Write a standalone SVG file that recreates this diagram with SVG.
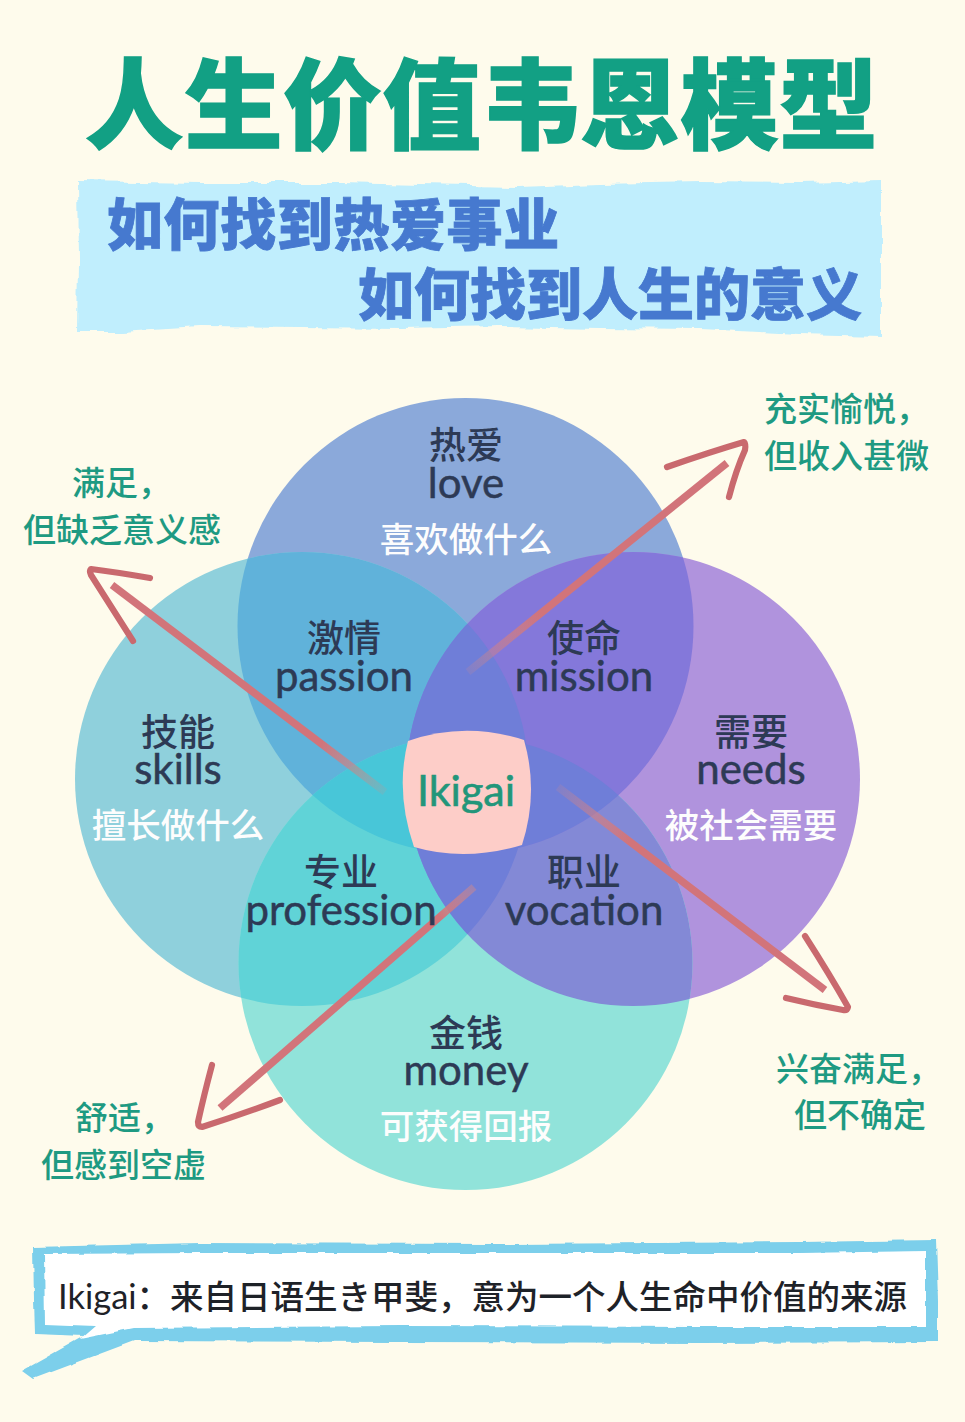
<svg xmlns="http://www.w3.org/2000/svg" width="965" height="1422" viewBox="0 0 965 1422">
<style>
text{font-family:"Noto Sans CJK SC","Noto Sans",sans-serif;text-anchor:middle}
.title{font-size:98px;font-weight:900;fill:#12A084;stroke:#12A084;stroke-width:1.5;letter-spacing:1.2px}
.sub{font-size:56px;font-weight:900;fill:#4679CF;stroke:#4679CF;stroke-width:.8;text-anchor:start}
.zh{font-size:37px;font-weight:500;fill:#2D3A55}
.en{font-family:Lato,"Noto Sans",sans-serif;font-size:42px;font-weight:400;fill:#2D3A55;stroke:#2D3A55;stroke-width:.5}
.wh{font-size:34.5px;font-weight:500;fill:#FDFDFD}
.side{font-size:33px;font-weight:500;fill:#1E9A82;text-anchor:start}
.ik{font-family:Lato,"Noto Sans",sans-serif;font-size:43px;fill:#22967A;stroke:#22967A;stroke-width:.6}
.note{font-size:33.5px;font-weight:500;fill:#1E2228;text-anchor:start}
.notelat{font-family:Lato,"Noto Sans",sans-serif;font-size:34.5px;font-weight:400}
.shaft{fill:none;stroke-width:7.5;stroke-linecap:butt}
.head{fill:none;stroke:#C9696E;stroke-width:6.2;stroke-linecap:round;stroke-linejoin:round}
</style>
<defs>
<clipPath id="cT"><circle cx="465.5" cy="626" r="228"/></clipPath>
<clipPath id="cL"><circle cx="302" cy="779" r="227"/></clipPath>
<clipPath id="cR"><circle cx="633" cy="779" r="227"/></clipPath>
<clipPath id="cB"><circle cx="465.5" cy="963" r="227"/></clipPath>
<filter id="torn" x="-5%" y="-20%" width="110%" height="140%"><feTurbulence type="fractalNoise" baseFrequency=".035" numOctaves="3" seed="7"/><feDisplacementMap in="SourceGraphic" scale="9" xChannelSelector="R" yChannelSelector="G"/></filter>
<filter id="rough" x="-5%" y="-20%" width="110%" height="140%"><feTurbulence type="fractalNoise" baseFrequency=".06" numOctaves="2" seed="3"/><feDisplacementMap in="SourceGraphic" scale="4" xChannelSelector="R" yChannelSelector="G"/></filter>
<linearGradient id="g1" gradientUnits="userSpaceOnUse" x1="468" y1="672" x2="540" y2="612"><stop offset="0" stop-color="#DE8A80" stop-opacity=".15"/><stop offset="1" stop-color="#D2747A"/></linearGradient>
<linearGradient id="g2" gradientUnits="userSpaceOnUse" x1="385" y1="792" x2="320" y2="745"><stop offset="0" stop-color="#DE8A80" stop-opacity=".15"/><stop offset="1" stop-color="#D2747A"/></linearGradient>
<linearGradient id="g3" gradientUnits="userSpaceOnUse" x1="558" y1="787" x2="630" y2="842"><stop offset="0" stop-color="#DE8A80" stop-opacity=".15"/><stop offset="1" stop-color="#D2747A"/></linearGradient>
<linearGradient id="g4" gradientUnits="userSpaceOnUse" x1="474" y1="887" x2="440" y2="917"><stop offset="0" stop-color="#DE8A80" stop-opacity=".4"/><stop offset="1" stop-color="#D2747A"/></linearGradient>
</defs>
<rect width="965" height="1422" fill="#FEFBEC"/>
<g id="title"><text class="title" x="482" y="141">人生价值韦恩模型</text></g>
<g id="subtitle">
<path fill="#C0EEFD" filter="url(#torn)" d="M78 181 L200 183 L340 183 L420 185 L520 187 L600 184 L700 182 L800 183 L881 181 L881 260 L881 336 L800 334 L700 329 L600 328 L500 326 L400 328 L300 327 L200 326 L120 331 L78 331 L79 260 Z"/>
<text class="sub" x="107" y="245" style="letter-spacing:.6px">如何找到热爱事业</text>
<text class="sub" x="358" y="315">如何找到人生的意义</text>
</g>
<g id="venn">
<circle id="love" cx="465.5" cy="626" r="228" fill="#8BA9DA"/>
<circle id="skills" cx="302" cy="779" r="227" fill="#8FD0DC"/>
<circle id="needs" cx="633" cy="779" r="227" fill="#B093DD"/>
<circle id="money" cx="465.5" cy="963" r="227" fill="#91E3DA"/>
<g clip-path="url(#cT)"><circle cx="302" cy="779" r="227" fill="#60B2DA"/></g>
<g clip-path="url(#cB)"><circle cx="302" cy="779" r="227" fill="#60D3D7"/></g>
<g clip-path="url(#cB)"><circle cx="633" cy="779" r="227" fill="#8389D6"/></g>
<g clip-path="url(#cT)"><circle cx="633" cy="779" r="227" fill="#8478DA"/></g>
<g clip-path="url(#cT)"><g clip-path="url(#cB)"><circle cx="302" cy="779" r="227" fill="#48C6D8"/></g></g>
<g clip-path="url(#cL)"><circle cx="633" cy="779" r="227" fill="#6F7ED8"/></g>
<g clip-path="url(#cT)"><g clip-path="url(#cB)"><circle cx="633" cy="779" r="227" fill="#6F7ED8"/></g></g>
</g>
<g id="ikigai">
<path fill="#FDCDC8" d="M408 741 Q465 721 524 740 Q539 792 522 845 Q465 862 414 847 Q395 792 408 741 Z"/>
<text class="ik" x="466" y="806">Ikigai</text>
</g>
<g id="connectors">
<path class="shaft" stroke="url(#g1)" d="M468 672 L727 463"/>
<path class="head" d="M667 467 Q710 452 744 442 Q746 444 745 450 Q736 470 729 497"/>
<path class="shaft" stroke="url(#g2)" d="M385 792 L112 585"/>
<path class="head" d="M150 578 Q115 572 91 569 Q89 571 91 575 Q110 605 133 641"/>
<path class="shaft" stroke="url(#g3)" d="M558 787 L825 990"/>
<path class="head" d="M805 936 Q830 975 848 1007 Q847 1011 843 1010 Q815 1005 786 998"/>
<path class="shaft" stroke="url(#g4)" d="M474 887 L220 1108"/>
<path class="head" d="M280 1100 Q240 1115 202 1127 Q198 1127 198 1122 Q204 1095 212 1065"/>
</g>
<g id="n-love"><text class="zh" x="466" y="459">热爱</text><text class="en" x="466" y="498">love</text><text class="wh" x="466" y="552">喜欢做什么</text></g>
<g id="n-passion"><text class="zh" x="344" y="652">激情</text><text class="en" x="344" y="691">passion</text></g>
<g id="n-mission"><text class="zh" x="584" y="652">使命</text><text class="en" x="584" y="691">mission</text></g>
<g id="n-skills"><text class="zh" x="178" y="746">技能</text><text class="en" x="178" y="784">skills</text><text class="wh" x="178" y="838">擅长做什么</text></g>
<g id="n-needs"><text class="zh" x="751" y="746">需要</text><text class="en" x="751" y="784">needs</text><text class="wh" x="751" y="838">被社会需要</text></g>
<g id="n-profession"><text class="zh" x="341" y="886">专业</text><text class="en" x="341" y="925">profession</text></g>
<g id="n-vocation"><text class="zh" x="584" y="886">职业</text><text class="en" x="584" y="925">vocation</text></g>
<g id="n-money"><text class="zh" x="466" y="1047">金钱</text><text class="en" x="466" y="1085">money</text><text class="wh" x="466" y="1139">可获得回报</text></g>
<g id="side-tr"><text class="side" x="764" y="421">充实愉悦，</text><text class="side" x="764" y="468">但收入甚微</text></g>
<g id="side-tl"><text class="side" x="72" y="495">满足，</text><text class="side" x="23" y="542">但缺乏意义感</text></g>
<g id="side-br"><text class="side" x="776" y="1081">兴奋满足，</text><text class="side" x="794" y="1127">但不确定</text></g>
<g id="side-bl"><text class="side" x="75" y="1130">舒适，</text><text class="side" x="41" y="1177">但感到空虚</text></g>
<g id="note">
<g filter="url(#rough)">
<path fill="#7CCFEB" d="M33 1247 L200 1243 L500 1244 L800 1242 L936 1240 L938 1300 L938 1342 L700 1343 L400 1342 L134 1341 L33 1379 L22 1371 L84 1336 L35 1334 L34 1300 Z"/>
<path fill="#FFFFFF" d="M44 1254 L200 1253 L500 1253 L800 1253 L926 1251 L926 1327 L700 1327 L400 1326 L134 1328 L80 1339 L95 1326 L45 1324 Z"/>
</g>
<text class="note" x="58" y="1309"><tspan class="notelat">Ikigai</tspan>：来自日语生き甲斐，意为一个人生命中价值的来源</text>
</g>
</svg>
